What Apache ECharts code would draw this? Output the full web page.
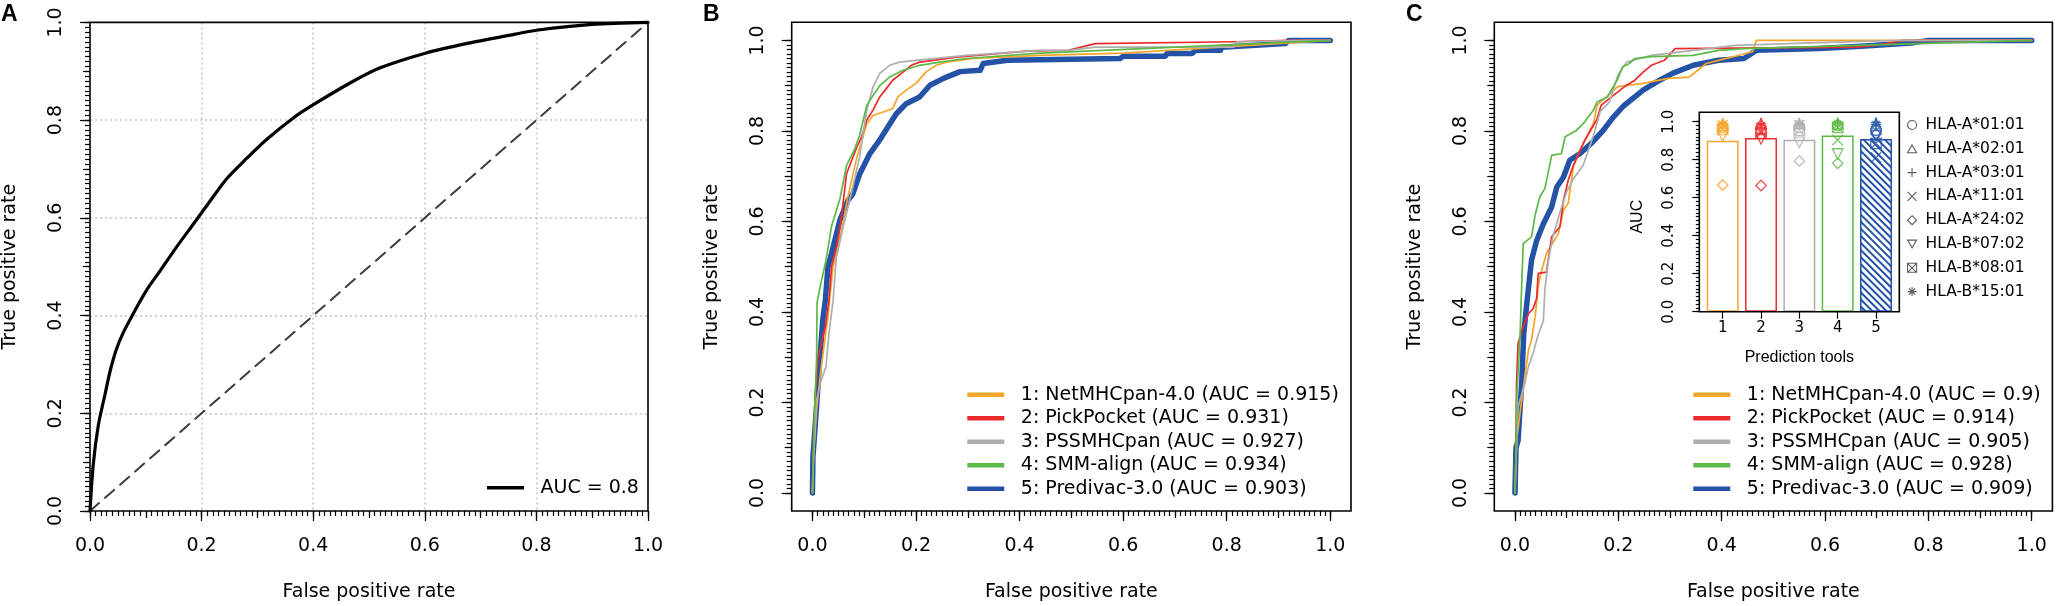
<!DOCTYPE html>
<html>
<head>
<meta charset="utf-8">
<script src="https://cdn.jsdelivr.net/npm/echarts/dist/echarts.min.js"></script>
<style>
  html, body { margin: 0; padding: 0; background: #fff; }
  #main { width: 2056px; height: 606px; }
</style>
</head>
<body>
<div id="main"></div>
<script>
// ---------------- data ----------------
const toolNames = ['NetMHCpan-4.0', 'PickPocket', 'PSSMHCpan', 'SMM-align', 'Predivac-3.0'];
const toolColors = ['#F5A52A', '#EC2A2C', '#AEAEAE', '#5CB947', '#2452A6'];
const aucA = 0.8;
const aucB = [0.915, 0.931, 0.927, 0.934, 0.903];
const aucC = [0.9, 0.914, 0.905, 0.928, 0.909];
const tickValues = [0, 0.2, 0.4, 0.6, 0.8, 1];
const tickLabels = ['0.0', '0.2', '0.4', '0.6', '0.8', '1.0'];
const gridValues = [0.2, 0.4, 0.6, 0.8];
const toolTicks = ['1', '2', '3', '4', '5'];

// panel A: single ROC curve (fpr, tpr)
const rocA = [[0,0],[0.006,0.097],[0.015,0.176],[0.027,0.239],[0.036,0.286],[0.047,0.33],[0.06,0.366],
  [0.078,0.405],[0.102,0.453],[0.126,0.492],[0.155,0.54],[0.185,0.587],[0.215,0.634],[0.245,0.68],
  [0.281,0.722],[0.317,0.761],[0.365,0.805],[0.401,0.832],[0.466,0.876],[0.52,0.907],[0.601,0.937],
  [0.676,0.957],[0.762,0.976],[0.8,0.984],[0.9,0.996],[1,1]];
const diagA = [[0,0],[1,1]];

// panel B ROC curves
const rocB1 = [[0,0],[0.002,0.08],[0.008,0.183],[0.017,0.278],[0.03,0.389],[0.033,0.426],[0.04,0.5],
  [0.06,0.6],[0.067,0.647],[0.086,0.742],[0.105,0.816],[0.117,0.834],[0.155,0.849],[0.165,0.875],
  [0.181,0.89],[0.2,0.905],[0.22,0.931],[0.239,0.945],[0.259,0.952],[0.31,0.96],[0.44,0.967],[0.6,0.972],[1,1]];
const rocB2 = [[0,0],[0.002,0.1],[0.005,0.205],[0.01,0.293],[0.019,0.338],[0.025,0.367],[0.032,0.426],
  [0.037,0.5],[0.048,0.55],[0.055,0.6],[0.066,0.706],[0.086,0.765],[0.095,0.787],[0.105,0.824],
  [0.117,0.846],[0.13,0.875],[0.143,0.894],[0.155,0.912],[0.175,0.93],[0.191,0.945],[0.207,0.952],
  [0.233,0.956],[0.278,0.963],[0.42,0.977],[0.494,0.978],[0.546,0.993],[0.814,0.997],[0.92,1],[1,1]];
const rocB3 = [[0,0],[0.003,0.1],[0.008,0.205],[0.017,0.249],[0.026,0.278],[0.032,0.352],[0.04,0.426],
  [0.046,0.519],[0.062,0.6],[0.078,0.676],[0.091,0.742],[0.105,0.846],[0.117,0.897],[0.13,0.927],
  [0.149,0.945],[0.168,0.952],[0.2,0.956],[0.297,0.967],[0.44,0.978],[0.494,0.978],[0.546,0.985],
  [0.814,0.985],[0.82,0.997],[0.95,1],[1,1]];
const rocB4 = [[0,0],[0.002,0.1],[0.005,0.205],[0.008,0.293],[0.009,0.421],[0.017,0.466],[0.027,0.518],
  [0.037,0.59],[0.053,0.649],[0.066,0.724],[0.082,0.761],[0.091,0.79],[0.105,0.856],[0.117,0.878],
  [0.13,0.9],[0.149,0.919],[0.175,0.934],[0.207,0.945],[0.246,0.952],[0.297,0.96],[0.44,0.972],[1,1]];
const rocB5 = [[0,0],[0.001,0.08],[0.008,0.19],[0.014,0.293],[0.02,0.382],[0.025,0.426],[0.03,0.5],
  [0.037,0.529],[0.053,0.603],[0.069,0.647],[0.078,0.661],[0.091,0.704],[0.111,0.75],[0.13,0.78],
  [0.146,0.809],[0.162,0.838],[0.181,0.86],[0.207,0.875],[0.227,0.901],[0.253,0.916],[0.285,0.931],
  [0.324,0.934],[0.33,0.949],[0.376,0.956],[0.594,0.96],[0.6,0.965],[0.681,0.965],[0.685,0.971],
  [0.733,0.971],[0.74,0.978],[0.788,0.978],[0.79,0.985],[0.913,0.993],[0.92,1],[1,1]];

// panel C ROC curves
const rocC1 = [[0,0],[0.003,0.116],[0.013,0.205],[0.026,0.315],[0.032,0.338],[0.039,0.389],[0.045,0.455],
  [0.05,0.485],[0.061,0.529],[0.084,0.573],[0.094,0.625],[0.103,0.64],[0.113,0.721],[0.126,0.758],
  [0.152,0.817],[0.159,0.857],[0.199,0.898],[0.248,0.905],[0.297,0.916],[0.337,0.919],[0.37,0.949],
  [0.394,0.956],[0.46,0.975],[0.467,1],[1,1]];
const rocC2 = [[0,0],[0.002,0.1],[0.003,0.242],[0.006,0.33],[0.016,0.367],[0.026,0.396],[0.035,0.407],
  [0.042,0.43],[0.045,0.485],[0.061,0.488],[0.071,0.566],[0.087,0.588],[0.094,0.647],[0.103,0.691],
  [0.113,0.724],[0.135,0.779],[0.158,0.824],[0.167,0.857],[0.191,0.879],[0.216,0.901],[0.232,0.912],
  [0.248,0.93],[0.264,0.945],[0.289,0.956],[0.31,0.982],[0.66,0.985],[0.706,0.99],[0.75,1],[1,1]];
const rocC3 = [[0,0],[0.003,0.1],[0.006,0.19],[0.019,0.242],[0.026,0.279],[0.035,0.308],[0.045,0.35],
  [0.055,0.38],[0.058,0.451],[0.065,0.517],[0.074,0.569],[0.087,0.62],[0.1,0.665],[0.113,0.694],
  [0.132,0.724],[0.152,0.79],[0.165,0.843],[0.183,0.864],[0.199,0.923],[0.216,0.952],[0.264,0.967],
  [0.345,0.978],[0.426,0.989],[0.588,0.995],[0.75,1],[1,1]];
const rocC4 = [[0,0],[0.002,0.1],[0.003,0.205],[0.01,0.35],[0.012,0.426],[0.016,0.551],[0.032,0.566],
  [0.039,0.614],[0.048,0.654],[0.058,0.673],[0.071,0.746],[0.09,0.75],[0.097,0.787],[0.119,0.801],
  [0.135,0.82],[0.152,0.846],[0.159,0.864],[0.179,0.875],[0.199,0.915],[0.208,0.941],[0.22,0.948],
  [0.232,0.96],[0.264,0.964],[0.345,0.967],[0.394,0.978],[0.443,0.982],[1,1]];
const rocC5 = [[0,0],[0.002,0.1],[0.006,0.116],[0.013,0.242],[0.017,0.352],[0.023,0.42],[0.032,0.514],
  [0.042,0.558],[0.055,0.595],[0.071,0.632],[0.081,0.676],[0.094,0.698],[0.106,0.735],[0.126,0.75],
  [0.15,0.775],[0.17,0.8],[0.19,0.83],[0.21,0.855],[0.248,0.89],[0.28,0.912],[0.305,0.927],[0.345,0.945],
  [0.394,0.956],[0.443,0.96],[0.467,0.978],[0.588,0.982],[0.67,0.987],[0.767,0.994],[0.8,1],[1,1]];

// inset: per-allele AUC for each tool (allele order as in alleles)
const alleles = ['HLA-A*01:01', 'HLA-A*02:01', 'HLA-A*03:01', 'HLA-A*11:01',
                 'HLA-A*24:02', 'HLA-B*07:02', 'HLA-B*08:01', 'HLA-B*15:01'];
const inset1 = [0.97, 0.99, 0.99, 0.98, 0.667, 0.925, 0.96, 0.985];
const inset2 = [0.96, 0.99, 0.99, 0.95, 0.664, 0.91, 0.94, 0.98];
const inset3 = [0.97, 0.99, 0.99, 0.98, 0.793, 0.891, 0.956, 0.99];
const inset4 = [0.98, 0.99, 0.995, 0.904, 0.781, 0.83, 0.97, 0.985];
const inset5 = [0.955, 0.99, 0.995, 0.812, 0.935, 0.925, 0.886, 0.985];

// ---------------- chart ----------------
const FONT = '"DejaVu Sans", sans-serif';
const ARIAL = '"Liberation Sans", Arial, sans-serif';
const grids = [], xAxis = [], yAxis = [], series = [], legend = [];

// tick positions for the R style minor ticks
const steps = (n, top) => Array.from({length: n + 1}, (_, i) => +(i * top / n).toFixed(4));
const medTicks = steps(10, 1);
const minorTicks = steps(100, 1);
const insetMinor = steps(50, 1);

const black = {color: '#000', width: 1.2};
const fmt = v => tickLabels[tickValues.indexOf(+v.toFixed(2))] || '';

function addGrid(left, top, width, height, border) {
  grids.push({left, top, width, height, outerBoundsMode: 'none', containLabel: false, z: 5,
    show: !!border, borderColor: '#000', borderWidth: 1.6, backgroundColor: 'transparent'});
  return grids.length - 1;
}

// value axis that only draws ticks at the given values (other parts added by extra)
function tickAxis(list, g, pos, lo, hi, values, len, extra) {
  list.push(Object.assign({gridIndex: g, type: 'value', position: pos, min: lo, max: hi,
    axisLine: {show: false, onZero: false}, splitLine: {show: false}, axisLabel: {show: false},
    axisTick: {show: len > 0, length: len, lineStyle: black, customValues: values}}, extra || {}));
  return list.length - 1;
}

function rocPanel(left, top, width, height, lo, hi, dotted) {
  const g = addGrid(left, top, width, height, true);
  const nameStyle = {fontSize: 19, fontFamily: FONT, color: '#000'};
  const xi = tickAxis(xAxis, g, 'bottom', lo, hi, tickValues, 10, {
    axisLabel: {fontSize: 19, fontFamily: FONT, color: '#000', margin: 26, formatter: fmt, customValues: tickValues},
    name: 'False positive rate', nameLocation: 'middle', nameGap: 72, nameTextStyle: nameStyle});
  tickAxis(xAxis, g, 'bottom', lo, hi, medTicks, 7);
  tickAxis(xAxis, g, 'bottom', lo, hi, minorTicks, 5);
  const yi = tickAxis(yAxis, g, 'left', lo, hi, tickValues, 10, {
    axisLabel: {fontSize: 19, fontFamily: FONT, color: '#000', margin: 24, rotate: 90, formatter: fmt, customValues: tickValues},
    name: 'True positive rate', nameLocation: 'middle', nameRotate: 90, nameGap: 70, nameTextStyle: nameStyle});
  tickAxis(yAxis, g, 'left', lo, hi, medTicks, 7);
  tickAxis(yAxis, g, 'left', lo, hi, minorTicks, 5);
  if (dotted) {
    // dotted reference grid at the inner major ticks
    const split = {show: true, lineStyle: {color: '#c4c4c4', width: 1.5, type: [2, 3]}};
    tickAxis(xAxis, g, 'bottom', lo, hi, gridValues, 0, {splitLine: split});
    tickAxis(yAxis, g, 'left', lo, hi, gridValues, 0, {splitLine: split});
  }
  return [xi, yi];
}

function rocLine(name, data, axes, color, width, dash) {
  series.push({type: 'line', name, data, xAxisIndex: axes[0], yAxisIndex: axes[1],
    symbol: 'none', showSymbol: false, clip: false, silent: true, color,
    itemStyle: {color}, lineStyle: {color, width, type: dash || 'solid', cap: 'round', join: 'round'}});
}

function rocLegend(names, left, top, thick) {
  legend.push({data: names, orient: 'vertical', left, top, padding: 0, icon: 'rect',
    itemWidth: 37, itemHeight: thick, itemGap: 4, selectedMode: false,
    textStyle: {fontSize: 19, fontFamily: FONT, color: '#000', lineHeight: 19.5, padding: [0, 0, 0, 11.5]}});
}

// ----- panel A -----
const axA = rocPanel(90, 22.4, 558, 488.6, 0, 1, true);
rocLine('diagonal', diagA, axA, '#3c3c3c', 2, [12, 8]);
rocLine('AUC = ' + aucA, rocA, axA, '#000', 3.2);
series[series.length - 1].smooth = 0.3;
rocLegend(['AUC = ' + aucA], 487, 478, 3.5);

// ----- panels B and C (R default 4% axis padding) -----
const rocB = [rocB1, rocB2, rocB3, rocB4, rocB5];
const rocC = [rocC1, rocC2, rocC3, rocC4, rocC5];
const drawOrder = [4, 0, 1, 2, 3];

const axB = rocPanel(791.7, 22.3, 559.3, 488.7, -0.04, 1.04, false);
const namesB = toolNames.map((t, i) => `${i + 1}: ${t} (AUC = ${aucB[i]})`);
drawOrder.forEach(i => rocLine(namesB[i], rocB[i], axB, toolColors[i], i === 4 ? 5.5 : 1.7));
rocLegend(namesB, 967.3, 385, 4.5);

const axC = rocPanel(1494.3, 22.3, 558.1, 488.7, -0.04, 1.04, false);
const namesC = toolNames.map((t, i) => `${i + 1}: ${t} (AUC = ${aucC[i]})`);
drawOrder.forEach(i => rocLine(namesC[i], rocC[i], axC, toolColors[i], i === 4 ? 5.5 : 1.7));
rocLegend(namesC, 1693.3, 385, 4.5);

// ----- inset bar chart in C -----
// frame with the AUC ticks (ylim 0..1.05 as in barplot)
const gFrame = addGrid(1699.3, 112.3, 200, 199.4, true);
xAxis.push({gridIndex: gFrame, type: 'value', show: false, min: 0, max: 1, axisLine: {onZero: false}});
tickAxis(yAxis, gFrame, 'left', 0, 1.0495, tickValues, 7, {
  axisLabel: {fontSize: 15, fontFamily: FONT, color: '#000', margin: 23, rotate: 90, formatter: fmt, customValues: tickValues}});
tickAxis(yAxis, gFrame, 'left', 0, 1.0495, insetMinor, 3.5);

// bars and points
const gI = addGrid(1703.5, 121.7, 191.7, 190, false);
xAxis.push({gridIndex: gI, type: 'category', data: toolTicks, position: 'bottom',
  axisLine: {show: false, onZero: false}, splitLine: {show: false},
  axisTick: {show: true, alignWithLabel: true, length: 7, lineStyle: black},
  axisLabel: {fontSize: 15, fontFamily: FONT, color: '#000', margin: 9},
  name: 'Prediction tools', nameLocation: 'middle', nameGap: 38,
  nameTextStyle: {fontSize: 16, fontFamily: ARIAL, color: '#000'}});
const xI = xAxis.length - 1;
yAxis.push({gridIndex: gI, type: 'value', position: 'left', min: 0, max: 1,
  axisLine: {show: false, onZero: false}, splitLine: {show: false}, axisTick: {show: false}, axisLabel: {show: false},
  name: 'AUC', nameLocation: 'middle', nameRotate: 90, nameGap: 58,
  nameTextStyle: {fontSize: 16, fontFamily: ARIAL, color: '#000'}});
const yI = yAxis.length - 1;

series.push({type: 'bar', name: 'overall AUC', xAxisIndex: xI, yAxisIndex: yI, barWidth: '83.3%', silent: true,
  data: aucC.map((v, i) => ({value: v, itemStyle: i === 4
    ? {color: '#fff', borderColor: toolColors[i], borderWidth: 1.5,
       decal: {symbol: 'rect', symbolSize: 1, color: toolColors[i], backgroundColor: '#fff',
               dashArrayX: [1, 0], dashArrayY: [1.3, 3], rotation: Math.PI / 4}}
    : {color: 'transparent', borderColor: toolColors[i], borderWidth: 1.5}}))});

const alleleSymbols = [
  'path://M10,5A5,5,0,1,1,0,5A5,5,0,1,1,10,5Z',
  'path://M5,0L10,8.66L0,8.66Z',
  'path://M5,0L5,10M0,5L10,5',
  'path://M0,0L10,10M10,0L0,10',
  'path://M5,0L10,5L5,10L0,5Z',
  'path://M0,0L10,0L5,8.66Z',
  'path://M0,0L10,0L10,10L0,10ZM0,0L10,10M10,0L0,10',
  'path://M5,0L5,10M0,5L10,5M1.5,1.5L8.5,8.5M8.5,1.5L1.5,8.5'
];
const insetByTool = [inset1, inset2, inset3, inset4, inset5];
alleles.forEach((a, k) => {
  series.push({type: 'scatter', name: a, xAxisIndex: xI, yAxisIndex: yI, silent: true, z: 4,
    symbol: alleleSymbols[k], symbolSize: 10.5,
    itemStyle: {color: 'transparent', borderColor: '#333', borderWidth: 1.3},
    data: insetByTool.map((vals, t) => ({value: vals[k], itemStyle: {borderColor: toolColors[t]}}))});
});
legend.push({data: alleles.map((a, k) => ({name: a, icon: alleleSymbols[k]})),
  orient: 'vertical', left: 1907, top: 117, padding: 0, itemWidth: 9, itemHeight: 9, itemGap: 7.8,
  selectedMode: false, itemStyle: {color: 'transparent', borderColor: '#333', borderWidth: 1.1},
  textStyle: {fontSize: 15.5, fontFamily: FONT, color: '#000', lineHeight: 16, padding: [0, 0, 0, 4]}});

// panel letters
const letter = (text, left) => ({text, left, top: 3, padding: 0,
  textStyle: {fontSize: 23, fontWeight: 'bold', fontFamily: ARIAL, color: '#000'}});

const chart = echarts.init(document.getElementById('main'), null, {renderer: 'canvas'});
chart.setOption({
  animation: false,
  backgroundColor: '#fff',
  title: [letter('A', 1), letter('B', 703), letter('C', 1406)],
  grid: grids,
  xAxis: xAxis,
  yAxis: yAxis,
  legend: legend,
  series: series
});
</script>
</body>
</html>
